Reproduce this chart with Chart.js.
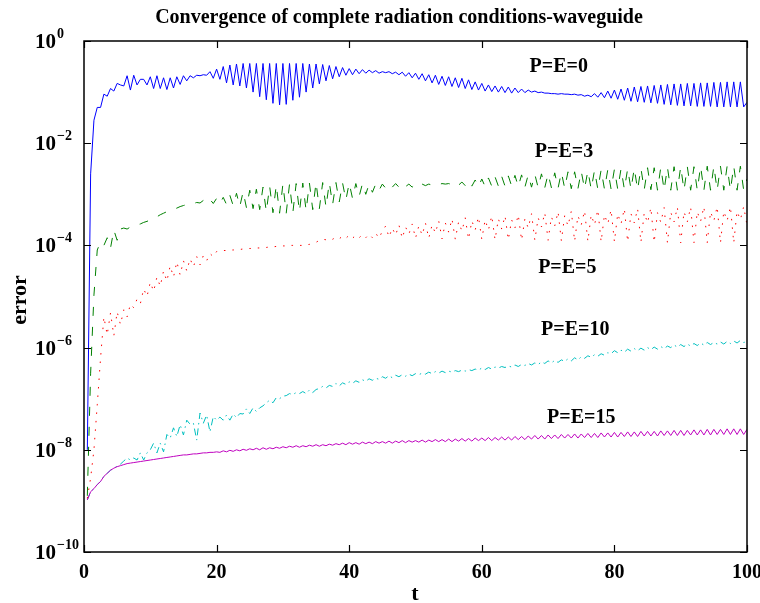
<!DOCTYPE html>
<html>
<head>
<meta charset="utf-8">
<script src="https://cdn.jsdelivr.net/npm/chart.js@4"></script>
<style>
  html, body { margin: 0; padding: 0; background: #fff; }
  canvas { display: block; }
</style>
</head>
<body>
<canvas id="chart" width="760" height="603"></canvas>
<script>
// samples every 0.5 from t = 0.5 to t = 100
const tStart = 0.5;
const tStep = 0.5;

// log10(error), one value per sample
const logErrPE0 = [
  -8.0,-2.6,-1.55,-1.3,-1.3,-1.04,-1.08,-0.93,-0.98,-0.83,
  -0.86,-0.88,-0.68,-0.96,-0.67,-0.86,-0.75,-0.75,-0.86,-0.70,
  -0.93,-0.68,-0.93,-0.72,-0.95,-0.72,-0.92,-0.70,-0.85,-0.68,
  -0.78,-0.68,-0.72,-0.67,-0.68,-0.66,-0.67,-0.60,-0.73,-0.55,
  -0.75,-0.5,-0.82,-0.47,-0.86,-0.45,-0.88,-0.44,-0.92,-0.44,
  -1.0,-0.44,-1.09,-0.44,-1.15,-0.44,-1.22,-0.44,-1.25,-0.44,
  -1.24,-0.44,-1.16,-0.44,-1.1,-0.44,-1.0,-0.45,-0.92,-0.45,
  -0.84,-0.46,-0.78,-0.48,-0.74,-0.5,-0.7,-0.52,-0.67,-0.54,
  -0.66,-0.55,-0.64,-0.56,-0.63,-0.57,-0.62,-0.58,-0.63,-0.6,
  -0.62,-0.6,-0.64,-0.61,-0.66,-0.61,-0.69,-0.62,-0.72,-0.63,
  -0.75,-0.64,-0.78,-0.66,-0.82,-0.67,-0.85,-0.69,-0.87,-0.7,
  -0.89,-0.72,-0.91,-0.73,-0.93,-0.76,-0.95,-0.8,-0.96,-0.83,
  -0.98,-0.86,-0.99,-0.88,-1.0,-0.89,-1.01,-0.9,-1.02,-0.92,
  -1.01,-0.94,-1.01,-0.96,-1.0,-0.98,-1.01,-1.0,-1.02,-1.02,
  -1.03,-1.03,-1.04,-1.03,-1.04,-1.04,-1.05,-1.04,-1.06,-1.05,
  -1.08,-1.06,-1.09,-1.03,-1.1,-1.01,-1.11,-0.98,-1.12,-0.96,
  -1.14,-0.94,-1.16,-0.92,-1.18,-0.9,-1.19,-0.89,-1.2,-0.88,
  -1.21,-0.87,-1.22,-0.86,-1.24,-0.85,-1.25,-0.84,-1.26,-0.84,
  -1.27,-0.83,-1.27,-0.83,-1.28,-0.82,-1.28,-0.82,-1.28,-0.81,
  -1.29,-0.81,-1.29,-0.8,-1.29,-0.8,-1.29,-0.8,-1.29,-1.2
];
const logErrPE3 = [
  -8.9,-6.5,-4.97,-4.09,-3.93,-4.0,-3.85,-4.05,-3.7,-3.9,
  -3.68,-3.66,-3.68,-3.64,-3.62,-3.6,-3.58,-3.55,-3.53,-3.5,
  -3.46,-3.44,-3.4,-3.37,-3.34,-3.32,-3.3,-3.27,-3.24,-3.22,
  -3.2,-3.19,-3.18,-3.16,-3.17,-3.12,-3.17,-3.1,-3.18,-3.08,
  -3.18,-3.06,-3.2,-3.02,-3.22,-2.98,-3.24,-2.95,-3.26,-2.92,
  -3.28,-2.9,-3.3,-2.86,-3.34,-2.84,-3.36,-2.82,-3.37,-2.8,
  -3.37,-2.8,-3.36,-2.79,-3.34,-2.78,-3.32,-2.78,-3.3,-2.77,
  -3.28,-2.77,-3.25,-2.77,-3.2,-2.77,-3.15,-2.78,-3.11,-2.78,
  -3.08,-2.79,-3.04,-2.79,-3.0,-2.8,-2.96,-2.8,-2.92,-2.8,
  -2.88,-2.8,-2.86,-2.79,-2.86,-2.79,-2.85,-2.8,-2.86,-2.8,
  -2.84,-2.8,-2.83,-2.8,-2.82,-2.8,-2.81,-2.79,-2.8,-2.79,
  -2.81,-2.77,-2.82,-2.76,-2.83,-2.74,-2.84,-2.72,-2.85,-2.7,
  -2.85,-2.68,-2.84,-2.66,-2.84,-2.65,-2.84,-2.64,-2.84,-2.63,
  -2.85,-2.62,-2.86,-2.62,-2.86,-2.61,-2.87,-2.6,-2.87,-2.6,
  -2.87,-2.58,-2.88,-2.57,-2.88,-2.56,-2.89,-2.56,-2.89,-2.55,
  -2.89,-2.54,-2.9,-2.53,-2.9,-2.52,-2.9,-2.52,-2.9,-2.51,
  -2.9,-2.5,-2.9,-2.5,-2.9,-2.49,-2.91,-2.49,-2.91,-2.48,
  -2.91,-2.48,-2.92,-2.47,-2.92,-2.47,-2.92,-2.46,-2.92,-2.46,
  -2.92,-2.46,-2.92,-2.46,-2.92,-2.45,-2.92,-2.45,-2.92,-2.45,
  -2.92,-2.45,-2.92,-2.45,-2.92,-2.45,-2.92,-2.45,-2.92,-2.7
];
const logErrPE5 = [
  -8.95,-8.55,-8.0,-7.12,-6.2,-5.4,-5.75,-5.32,-5.77,-5.3,
  -5.55,-5.26,-5.4,-5.15,-5.22,-5.05,-5.14,-4.85,-5.0,-4.72,
  -4.9,-4.62,-4.8,-4.5,-4.7,-4.4,-4.62,-4.32,-4.58,-4.3,
  -4.5,-4.26,-4.42,-4.22,-4.38,-4.2,-4.3,-4.16,-4.22,-4.12,
  -4.12,-4.1,-4.1,-4.09,-4.09,-4.08,-4.08,-4.07,-4.07,-4.06,
  -4.06,-4.05,-4.05,-4.04,-4.04,-4.03,-4.03,-4.02,-4.02,-4.01,
  -4.01,-4.0,-4.0,-4.0,-4.0,-4.0,-3.99,-3.98,-3.96,-3.94,
  -3.9,-3.88,-3.89,-3.86,-3.88,-3.84,-3.87,-3.82,-3.86,-3.8,
  -3.86,-3.8,-3.85,-3.79,-3.85,-3.78,-3.85,-3.76,-3.86,-3.72,
  -3.62,-3.84,-3.66,-3.8,-3.6,-3.86,-3.64,-3.78,-3.58,-3.86,
  -3.62,-3.8,-3.56,-3.86,-3.6,-3.76,-3.52,-3.87,-3.56,-3.74,
  -3.48,-3.88,-3.54,-3.72,-3.46,-3.88,-3.52,-3.7,-3.44,-3.88,
  -3.5,-3.7,-3.42,-3.89,-3.48,-3.68,-3.42,-3.89,-3.5,-3.66,
  -3.4,-3.9,-3.48,-3.66,-3.38,-3.9,-3.46,-3.64,-3.36,-3.9,
  -3.44,-3.62,-3.34,-3.91,-3.42,-3.62,-3.33,-3.92,-3.42,-3.6,
  -3.32,-3.92,-3.4,-3.6,-3.3,-3.93,-3.4,-3.58,-3.3,-3.93,
  -3.38,-3.58,-3.28,-3.93,-3.38,-3.56,-3.28,-3.94,-3.36,-3.56,
  -3.26,-3.94,-3.36,-3.55,-3.26,-3.95,-3.35,-3.54,-3.25,-3.95,
  -3.34,-3.54,-3.25,-3.95,-3.34,-3.53,-3.24,-3.95,-3.34,-3.52,
  -3.24,-3.95,-3.33,-3.52,-3.24,-3.95,-3.33,-3.5,-3.24,-3.6
];
const logErrPE10 = [
  -8.98,-8.82,-8.76,-8.68,-8.62,-8.52,-8.46,-8.4,-8.36,-8.32,
  -8.28,-8.22,-8.16,-8.2,-8.16,-8.2,-8.06,-8.2,-8.06,-8.0,
  -7.87,-8.06,-7.87,-8.04,-7.7,-7.77,-7.57,-7.74,-7.51,-7.71,
  -7.42,-7.5,-7.48,-7.81,-7.28,-7.48,-7.32,-7.65,-7.35,-7.42,
  -7.36,-7.42,-7.32,-7.42,-7.3,-7.37,-7.29,-7.3,-7.2,-7.29,
  -7.18,-7.25,-7.18,-7.14,-7.08,-7.03,-7.08,-6.98,-7.0,-6.95,
  -6.94,-6.9,-6.92,-6.88,-6.9,-6.86,-6.9,-6.83,-6.88,-6.82,
  -6.8,-6.76,-6.79,-6.74,-6.76,-6.7,-6.75,-6.69,-6.72,-6.67,
  -6.7,-6.65,-6.68,-6.63,-6.66,-6.61,-6.64,-6.6,-6.62,-6.57,
  -6.6,-6.55,-6.59,-6.54,-6.57,-6.53,-6.56,-6.52,-6.55,-6.51,
  -6.53,-6.5,-6.52,-6.48,-6.51,-6.47,-6.5,-6.46,-6.49,-6.46,
  -6.48,-6.45,-6.47,-6.44,-6.46,-6.43,-6.45,-6.42,-6.44,-6.4,
  -6.43,-6.39,-6.42,-6.38,-6.4,-6.37,-6.39,-6.36,-6.38,-6.34,
  -6.37,-6.33,-6.35,-6.31,-6.34,-6.3,-6.33,-6.28,-6.31,-6.26,
  -6.3,-6.25,-6.29,-6.24,-6.27,-6.22,-6.26,-6.2,-6.24,-6.18,
  -6.21,-6.16,-6.19,-6.14,-6.17,-6.12,-6.15,-6.1,-6.12,-6.06,
  -6.1,-6.05,-6.09,-6.03,-6.07,-6.02,-6.06,-6.01,-6.05,-6.0,
  -6.04,-5.99,-6.03,-5.98,-6.02,-5.97,-6.0,-5.95,-5.99,-5.94,
  -5.98,-5.93,-5.97,-5.92,-5.96,-5.91,-5.95,-5.9,-5.94,-5.9,
  -5.93,-5.89,-5.93,-5.88,-5.92,-5.87,-5.91,-5.86,-5.9,-5.88
];
const logErrPE15 = [
  -8.98,-8.82,-8.76,-8.68,-8.62,-8.52,-8.46,-8.4,-8.36,-8.33,
  -8.31,-8.29,-8.27,-8.26,-8.25,-8.24,-8.23,-8.22,-8.21,-8.2,
  -8.19,-8.18,-8.17,-8.16,-8.15,-8.14,-8.13,-8.12,-8.11,-8.1,
  -8.1,-8.09,-8.08,-8.08,-8.07,-8.06,-8.06,-8.05,-8.05,-8.04,
  -8.05,-8.02,-8.04,-8.01,-8.03,-8.0,-8.02,-7.99,-8.01,-7.98,
  -8.0,-7.97,-8.0,-7.96,-7.99,-7.96,-7.98,-7.95,-7.97,-7.94,
  -7.96,-7.93,-7.95,-7.92,-7.95,-7.92,-7.94,-7.91,-7.93,-7.9,
  -7.93,-7.9,-7.92,-7.89,-7.91,-7.88,-7.9,-7.87,-7.9,-7.86,
  -7.89,-7.86,-7.89,-7.85,-7.88,-7.85,-7.88,-7.84,-7.87,-7.84,
  -7.87,-7.83,-7.87,-7.83,-7.86,-7.82,-7.86,-7.82,-7.85,-7.82,
  -7.85,-7.81,-7.85,-7.81,-7.84,-7.8,-7.84,-7.8,-7.84,-7.79,
  -7.84,-7.79,-7.83,-7.78,-7.83,-7.78,-7.83,-7.77,-7.82,-7.77,
  -7.82,-7.76,-7.82,-7.76,-7.81,-7.75,-7.81,-7.75,-7.81,-7.74,
  -7.8,-7.74,-7.8,-7.73,-7.79,-7.72,-7.79,-7.72,-7.79,-7.71,
  -7.78,-7.71,-7.78,-7.7,-7.77,-7.7,-7.77,-7.69,-7.77,-7.69,
  -7.76,-7.68,-7.76,-7.68,-7.76,-7.67,-7.75,-7.67,-7.75,-7.66,
  -7.75,-7.66,-7.74,-7.65,-7.74,-7.65,-7.74,-7.64,-7.73,-7.64,
  -7.73,-7.64,-7.73,-7.63,-7.72,-7.63,-7.72,-7.62,-7.72,-7.62,
  -7.72,-7.62,-7.71,-7.61,-7.71,-7.61,-7.71,-7.6,-7.71,-7.6,
  -7.7,-7.6,-7.7,-7.59,-7.7,-7.59,-7.7,-7.59,-7.7,-7.6
];

const seriesNames = ['P=E=0', 'P=E=3', 'P=E=5', 'P=E=10', 'P=E=15'];
const xTicks = [0, 20, 40, 60, 80, 100];
const yTickExps = [0, -2, -4, -6, -8, -10];

// where each series name sits, in (t, log10 error) units
const nameAnchors = [[71.6, -0.61], [72.4, -2.27], [72.9, -4.54], [74.1, -5.75], [75.0, -7.48]];

const FONT = '"Liberation Serif", "Times New Roman", serif';

function toPoints(logs) {
  return logs.map((v, i) => ({ x: tStart + i * tStep, y: Math.pow(10, v) }));
}

const frameAndText = {
  id: 'frameAndText',
  afterDraw(chart) {
    const { ctx, chartArea: { left, right, top, bottom }, scales: { x, y } } = chart;
    ctx.save();

    // box
    ctx.strokeStyle = '#000';
    ctx.lineWidth = 1.5;
    ctx.strokeRect(left, top, right - left, bottom - top);

    // inward ticks
    ctx.lineWidth = 1.2;
    ctx.beginPath();
    xTicks.forEach(v => {
      const px = Math.round(x.getPixelForValue(v)) + 0.5;
      ctx.moveTo(px, bottom); ctx.lineTo(px, bottom - 7);
      ctx.moveTo(px, top); ctx.lineTo(px, top + 7);
    });
    yTickExps.forEach(e => {
      const py = Math.round(y.getPixelForValue(Math.pow(10, e))) + 0.5;
      ctx.moveTo(left, py); ctx.lineTo(left + 7, py);
      ctx.moveTo(right, py); ctx.lineTo(right - 7, py);
    });
    ctx.stroke();

    ctx.fillStyle = '#000';

    // x tick labels
    ctx.font = 'bold 20px ' + FONT;
    ctx.textAlign = 'center';
    ctx.textBaseline = 'alphabetic';
    xTicks.forEach(v => {
      ctx.fillText(String(v), x.getPixelForValue(v), 578);
    });

    // y tick labels: 10 with a raised exponent
    ctx.textAlign = 'left';
    yTickExps.forEach(e => {
      const py = y.getPixelForValue(Math.pow(10, e));
      ctx.font = 'bold 21px ' + FONT;
      ctx.fillText('10', 35, py + 7);
      ctx.font = 'bold 14px ' + FONT;
      ctx.fillText(e === 0 ? '0' : '\u2212' + String(-e), 57, py - 3);
    });

    // title
    ctx.font = 'bold 20px ' + FONT;
    ctx.textAlign = 'center';
    ctx.fillText('Convergence of complete radiation conditions-waveguide', 399, 23);

    // axis titles
    ctx.font = 'bold 22px ' + FONT;
    ctx.fillText('t', 415, 600);
    ctx.save();
    ctx.translate(26, 300);
    ctx.rotate(-Math.PI / 2);
    ctx.fillText('error', 0, 0);
    ctx.restore();

    // series names
    ctx.font = 'bold 20px ' + FONT;
    seriesNames.forEach((name, i) => {
      const [t, le] = nameAnchors[i];
      ctx.fillText(name, x.getPixelForValue(t), y.getPixelForValue(Math.pow(10, le)));
    });

    ctx.restore();
  }
};

const seriesStyles = [
  { color: 'rgb(0,0,255)', dash: [] },
  { color: 'rgb(0,128,0)', dash: [9, 11] },
  { color: 'rgb(255,0,0)', dash: [1.5, 7] },
  { color: 'rgb(0,191,191)', dash: [7, 4, 1.5, 4] },
  { color: 'rgb(191,0,191)', dash: [] }
];
const allLogs = [logErrPE0, logErrPE3, logErrPE5, logErrPE10, logErrPE15];

new Chart(document.getElementById('chart'), {
  type: 'line',
  data: {
    datasets: allLogs.map((logs, i) => ({
      label: seriesNames[i],
      data: toPoints(logs),
      borderColor: seriesStyles[i].color,
      borderDash: seriesStyles[i].dash,
      borderWidth: 1,
      pointRadius: 0,
      tension: 0,
      fill: false,
      // magenta drawn above cyan
      order: i === 4 ? -1 : i
    }))
  },
  options: {
    responsive: false,
    animation: false,
    layout: { padding: { left: 84, right: 13, top: 41, bottom: 51 } },
    plugins: {
      legend: { display: false },
      tooltip: { enabled: false }
    },
    scales: {
      x: { type: 'linear', min: 0, max: 100, display: false },
      y: { type: 'logarithmic', min: 1e-10, max: 1, display: false }
    }
  },
  plugins: [frameAndText]
});
</script>
</body>
</html>
